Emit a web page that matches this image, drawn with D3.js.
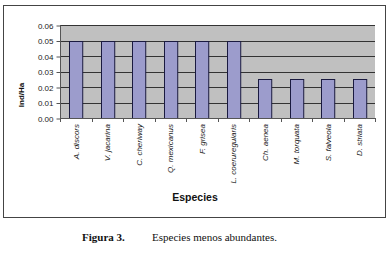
<html lang="es">
<head>
  <script src="https://d3js.org/d3.v7.min.js"></script>
  <style>
    body { margin: 0; background: #fff; }
    .axis text { font-family: "Liberation Sans", Arial, sans-serif; font-size: 8px; fill: #222; }
    .grid line { stroke: #333; stroke-width: 1px; }
    .bar { fill: #9c9ccc; stroke: #1a1a40; stroke-width: 1px; }
    .title { font-family: "Liberation Sans", Arial, sans-serif; font-weight: bold; fill: #111; }
    .caption { font-family: "Liberation Serif", "DejaVu Serif", serif; font-size: 11px; fill: #111; }
  </style>
</head>
<body>
  <svg width="392" height="255" id="svg-container"></svg>
  <script>
    const svg = d3.select("svg#svg-container");

    // DATA
    const species = ["A. discors", "V. jacarina", "C. cheriway", "Q. mexicanus", "F. grisea",
      "L. coerureguiaris", "Ch. aenea", "M. torquata", "S. falveola", "D. striata"];
    const density = [0.05, 0.05, 0.05, 0.05, 0.05, 0.05, 0.025, 0.025, 0.025, 0.025];
    const yTicks = [0, 0.01, 0.02, 0.03, 0.04, 0.05, 0.06];

    const plot = { left: 60, right: 375, top: 25, bottom: 118 };

    // outer frame
    svg.append("rect")
      .attr("x", 3.5).attr("y", 5.5)
      .attr("width", 382).attr("height", 212)
      .attr("fill", "#fff").attr("stroke", "#444").attr("stroke-width", 1);

    const x = d3.scaleBand().domain(species).range([plot.left, plot.right]).paddingInner(0.58).paddingOuter(0.29);
    const y = d3.scaleLinear().domain([0, 0.06]).range([plot.bottom, plot.top]);

    svg.append("rect")
      .attr("x", plot.left).attr("y", plot.top)
      .attr("width", plot.right - plot.left).attr("height", plot.bottom - plot.top)
      .attr("fill", "#c0c0c0");

    svg.append("g").attr("class", "grid")
      .selectAll("line").data(yTicks.slice(1)).enter().append("line")
      .attr("x1", plot.left).attr("x2", plot.right)
      .attr("y1", d => Math.round(y(d)) + 0.5).attr("y2", d => Math.round(y(d)) + 0.5);

    svg.append("g").selectAll("rect").data(species).enter().append("rect")
      .attr("class", "bar")
      .attr("x", d => Math.round(x(d)) + 0.5)
      .attr("y", (d, i) => Math.round(y(density[i])) + 0.5)
      .attr("width", x.bandwidth())
      .attr("height", (d, i) => Math.round(y(0)) - Math.round(y(density[i])));

    // y axis
    const yAxis = svg.append("g").attr("class", "axis")
      .attr("transform", "translate(" + (plot.left + 0.5) + ",0.5)")
      .call(d3.axisLeft(y).tickValues(yTicks).tickFormat(d3.format(".2f")).tickSize(4).tickPadding(3));
    yAxis.selectAll("line, path").attr("stroke", "#555");
    yAxis.select(".domain").attr("d", "M0," + plot.top + "V" + plot.bottom);

    // x axis: ticks between categories
    const xg = svg.append("g").attr("class", "axis");
    xg.append("line")
      .attr("x1", plot.left).attr("x2", plot.right)
      .attr("y1", plot.bottom + 0.5).attr("y2", plot.bottom + 0.5)
      .attr("stroke", "#555");
    xg.selectAll(".tk").data(d3.range(species.length + 1)).enter().append("line")
      .attr("x1", i => Math.round(plot.left + i * (plot.right - plot.left) / species.length) + 0.5)
      .attr("x2", i => Math.round(plot.left + i * (plot.right - plot.left) / species.length) + 0.5)
      .attr("y1", plot.bottom).attr("y2", plot.bottom + 4)
      .attr("stroke", "#555");
    xg.selectAll("text").data(species).enter().append("text")
      .attr("transform", d => "translate(" + (x(d) + x.bandwidth() / 2 + 3) + "," + (plot.bottom + 6) + ") rotate(-90)")
      .attr("text-anchor", "end")
      .style("font-style", "italic")
      .text(d => d);

    svg.append("text").attr("class", "title")
      .attr("transform", "translate(24,95) rotate(-90)")
      .attr("text-anchor", "middle").style("font-size", "8px")
      .text("Ind/Ha");

    svg.append("text").attr("class", "title")
      .attr("x", 195).attr("y", 201)
      .attr("text-anchor", "middle").style("font-size", "10.5px")
      .text("Especies");

    svg.append("text").attr("class", "caption")
      .attr("x", 82).attr("y", 241).style("font-weight", "bold")
      .text("Figura 3.");
    svg.append("text").attr("class", "caption")
      .attr("x", 152).attr("y", 241)
      .text("Especies menos abundantes.");
  </script>
</body>
</html>
